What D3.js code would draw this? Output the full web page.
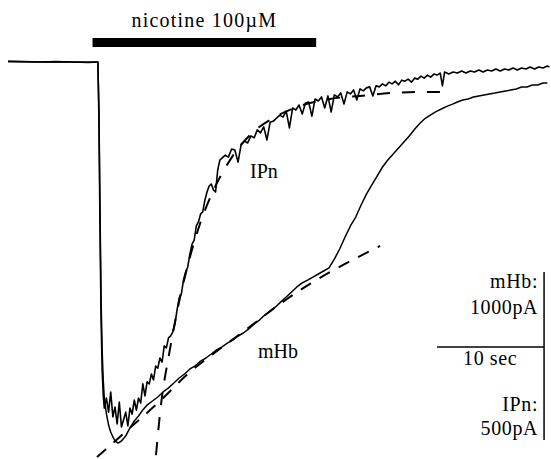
<!DOCTYPE html>
<html lang="en">
<head>
    <meta charset="UTF-8">
    <title>Nicotine response IPn / mHb</title>
    <script src="https://d3js.org/d3.v7.min.js"></script>
    <style>
        body { margin: 0; background: #fff; }
    </style>
</head>
<body>
    <div id="chart"></div>
    <script>
        // time in seconds, current in pA (inward = negative)
        const ipnTrace = [
            [0,2],[1.5,1],[3,0],[4.5,1],[6,0],[7.5,-1],[8.4,0],
            [8.5,-173],[8.6,-500],[8.7,-768],[8.8,-917],[8.9,-991],[9.0,-1030],
            [9.2,-1000],[9.4,-1042],[9.6,-982],[9.8,-1056],[10.0,-1027],[10.2,-1077],[10.4,-1012],[10.6,-1086],
            [10.8,-1065],[11.0,-1042],[11.2,-1083],[11.4,-1030],[11.6,-1048],[11.8,-1006],[12.0,-1036],[12.2,-1000],
            [12.4,-1015],[12.6,-958],[12.8,-994],[13.0,-952],[13.2,-958],[13.4,-929],[13.6,-946],[13.8,-905],
            [14.0,-911],[14.2,-881],[14.4,-893],[14.6,-845],[14.8,-851],[15.0,-821],[15.2,-815],[15.4,-804],
            [15.6,-780],[15.8,-738],[16.0,-702],[16.2,-690],[16.4,-649],[16.6,-625],[16.8,-610],[17.0,-571],
            [17.2,-542],[17.4,-530],[17.6,-488],[17.8,-476],[18.0,-452],[18.2,-446],[18.4,-411],[18.6,-387],
            [18.8,-369],[19.0,-363],[19.2,-381],[19.4,-387],[19.6,-321],[19.8,-292],[20.0,-286],[20.3,-277],
            [20.6,-283],[20.9,-259],[21.2,-262],[21.5,-298],[21.8,-244],[22.1,-235],[22.4,-241],[22.7,-220],
            [23.0,-226],[23.3,-202],[23.6,-211],[23.9,-193],[24.2,-232],[24.5,-179],[24.8,-176],[25.1,-167],
            [25.4,-158],[25.7,-164],[26.0,-146],[26.3,-196],[26.6,-137],[26.9,-143],[27.2,-128],[27.5,-155],
            [27.8,-122],[28.1,-119],[28.4,-161],[28.7,-110],[29.0,-116],[29.3,-104],[29.6,-137],[29.9,-101],
            [30.2,-149],[30.5,-98],[30.8,-104],[31.1,-92],[31.4,-125],[31.7,-89],[32.0,-95],[32.3,-83],
            [32.6,-113],[32.9,-80],[33.2,-86],[33.5,-77],[33.8,-74],[34.1,-101],[34.4,-71],[34.7,-74],
            [35.0,-65],[35.3,-71],[35.6,-60],[35.9,-65],[36.2,-57],[36.5,-68],[36.8,-54],[37.1,-57],
            [37.4,-51],[37.7,-60],[38.0,-48],[38.3,-51],[38.6,-42],[38.9,-48],[39.2,-39],[39.5,-45],
            [39.8,-36],[40.1,-39],[40.4,-33],[40.6,-71],[40.8,-30],[41.2,-36],[41.6,-30],[42.0,-33],
            [42.4,-27],[42.8,-33],[43.2,-27],[43.6,-30],[44.0,-24],[44.4,-30],[44.8,-24],[45.2,-27],
            [45.6,-21],[46.0,-27],[46.4,-21],[46.8,-24],[47.2,-18],[47.6,-24],[48.0,-18],[48.4,-21],
            [48.8,-15],[49.2,-21],[49.6,-15],[50.0,-18],[50.4,-12],[50.6,-15]
        ];

        const mhbTrace = [
            [0,3],[1.5,1],[3,0],[4.5,2],[6,0],[7.5,-1],[8.4,0],
            [8.5,-286],[8.6,-881],[8.7,-1417],[8.8,-1714],[8.9,-1893],[9.0,-2000],[9.2,-2095],[9.4,-2161],
            [9.6,-2202],[9.8,-2232],[10.0,-2256],[10.3,-2268],[10.6,-2256],[11.0,-2226],[11.4,-2178],
            [11.8,-2137],[12.2,-2107],[12.6,-2071],[13.0,-2042],[13.5,-2018],[14.0,-1994],[14.5,-1964],
            [15.0,-1940],[15.5,-1911],[16.0,-1881],[16.5,-1857],[17.0,-1827],[17.5,-1809],[18.0,-1780],
            [18.5,-1762],[19.0,-1738],[19.5,-1714],[20.0,-1696],[20.5,-1673],[21.0,-1655],[21.5,-1631],
            [22.0,-1613],[22.5,-1589],[23.0,-1559],[23.5,-1536],[24.0,-1506],[24.5,-1482],[25.0,-1458],
            [25.5,-1428],[26.0,-1399],[26.5,-1369],[27.0,-1339],[27.5,-1315],[28.0,-1298],[28.5,-1280],
            [29.0,-1262],[29.5,-1244],[30.0,-1226],[30.5,-1173],[31.0,-1113],[31.5,-1042],[32.0,-976],
            [32.5,-923],[33.0,-851],[33.5,-786],[34.0,-732],[34.5,-679],[35.0,-625],[35.5,-583],[36.0,-548],
            [36.5,-512],[37.0,-476],[37.5,-440],[38.0,-400],[38.5,-365],[39.0,-335],[39.5,-315],[40.0,-295],
            [40.5,-280],[41.0,-264],[41.5,-252],[42.0,-238],[42.5,-226],[43.0,-220],[43.5,-208],[44.0,-202],
            [44.5,-196],[45.0,-190],[45.5,-185],[46.0,-179],[46.5,-173],[47.0,-167],[47.5,-161],[48.0,-149],
            [48.5,-149],[49.0,-137],[49.5,-137],[50.0,-125],[50.4,-125]
        ];

        // dashed exponential fits
        const ipnFit = [
            [13.83,-1170],[14.21,-1045],[15.14,-854],[16.07,-702],[17.01,-580],[17.94,-482],[19.35,-372],
            [20.75,-292],[22.62,-217],[24.95,-164],[27.29,-131],[30.09,-110],[32.9,-101],[35.98,-92],
            [38.5,-89],[40.93,-89]
        ];
        const mhbFit = [
            [8.32,-2351],[9.07,-2309],[11.4,-2178],[14.21,-2018],[17.01,-1845],[19.16,-1738],[22.34,-1589],
            [25.42,-1440],[28.22,-1321],[30.09,-1250],[31.5,-1202],[32.9,-1155],[34.77,-1095]
        ];

        const drugLabel = "nicotine 100\u00b5M";
        const drugOn = [7.9, 28.8];   // application bar, s
        const scaleTime = [40.1, 10];  // start, length (s)
        const scaleMhb = [-1250, 1000]; // top, length (pA)

        const width = 551, height = 459;
        const serif = "'Liberation Serif', 'Times New Roman', 'DejaVu Serif', serif";

        const x = d3.scaleLinear().domain([0, 50]).range([8, 543]);
        const yMhb = d3.scaleLinear().domain([0, -1000]).range([62, 230]);
        const yIpn = d3.scaleLinear().domain([0, -500]).range([62, 230]);

        const svg = d3.select("#chart")
            .append("svg")
            .attr("width", width)
            .attr("height", height)
            .attr("font-family", serif);

        // drug application bar + label
        svg.append("rect")
            .attr("x", x(drugOn[0]))
            .attr("y", 38)
            .attr("width", x(drugOn[1]) - x(drugOn[0]))
            .attr("height", 9)
            .attr("fill", "#000");

        svg.append("text")
            .attr("x", (x(drugOn[0]) + x(drugOn[1])) / 2)
            .attr("y", 27)
            .attr("text-anchor", "middle")
            .attr("font-family", serif)
            .attr("font-size", "20px")
            .attr("letter-spacing", "1.2px")
            .text(drugLabel);

        const lineMhb = d3.line().x(d => x(d[0])).y(d => yMhb(d[1]));
        const lineIpn = d3.line().x(d => x(d[0])).y(d => yIpn(d[1]));
        const smoothMhb = d3.line().x(d => x(d[0])).y(d => yMhb(d[1])).curve(d3.curveMonotoneX);
        const smoothIpn = d3.line().x(d => x(d[0])).y(d => yIpn(d[1])).curve(d3.curveMonotoneX);

        // fits (under the traces)
        svg.append("path")
            .datum(mhbFit)
            .attr("fill", "none")
            .attr("stroke", "#000")
            .attr("stroke-width", 2)
            .attr("stroke-dasharray", "12,10")
            .attr("d", smoothMhb);

        svg.append("path")
            .datum(ipnFit)
            .attr("fill", "none")
            .attr("stroke", "#000")
            .attr("stroke-width", 2)
            .attr("stroke-dasharray", "13,12")
            .attr("d", smoothIpn);

        // traces
        svg.append("path")
            .datum(mhbTrace)
            .attr("fill", "none")
            .attr("stroke", "#000")
            .attr("stroke-width", 1.5)
            .attr("stroke-linejoin", "round")
            .attr("d", lineMhb);

        svg.append("path")
            .datum(ipnTrace)
            .attr("fill", "none")
            .attr("stroke", "#000")
            .attr("stroke-width", 1.6)
            .attr("stroke-linejoin", "round")
            .attr("d", lineIpn);

        // trace labels
        svg.append("text")
            .attr("x", 250).attr("y", 178)
            .attr("font-family", serif)
            .attr("font-size", "20px")
            .text("IPn");

        svg.append("text")
            .attr("x", 258).attr("y", 358)
            .attr("font-family", serif)
            .attr("font-size", "20px")
            .text("mHb");

        // scale bars
        const sx0 = x(scaleTime[0]), sx1 = x(scaleTime[0] + scaleTime[1]);
        const sy = yMhb(scaleMhb[0] - scaleMhb[1]);
        svg.append("line")
            .attr("x1", sx0).attr("x2", sx1)
            .attr("y1", 347).attr("y2", 347)
            .attr("stroke", "#000").attr("stroke-width", 1.5);
        svg.append("line")
            .attr("x1", sx1).attr("x2", sx1)
            .attr("y1", yMhb(scaleMhb[0])).attr("y2", sy)
            .attr("stroke", "#000").attr("stroke-width", 1.5);

        const scaleLabels = [
            ["mHb:", 288], ["1000pA", 314], ["10 sec", 365], ["IPn:", 411], ["500pA", 435]
        ];
        svg.selectAll("text.sb")
            .data(scaleLabels)
            .join("text")
            .attr("class", "sb")
            .attr("x", d => d[0] === "10 sec" ? sx0 + 26 : sx1 - 6)
            .attr("y", d => d[1])
            .attr("text-anchor", d => d[0] === "10 sec" ? "start" : "end")
            .attr("font-family", serif)
            .attr("font-size", "20px")
            .attr("letter-spacing", "0.6px")
            .text(d => d[0]);
    </script>
</body>
</html>
